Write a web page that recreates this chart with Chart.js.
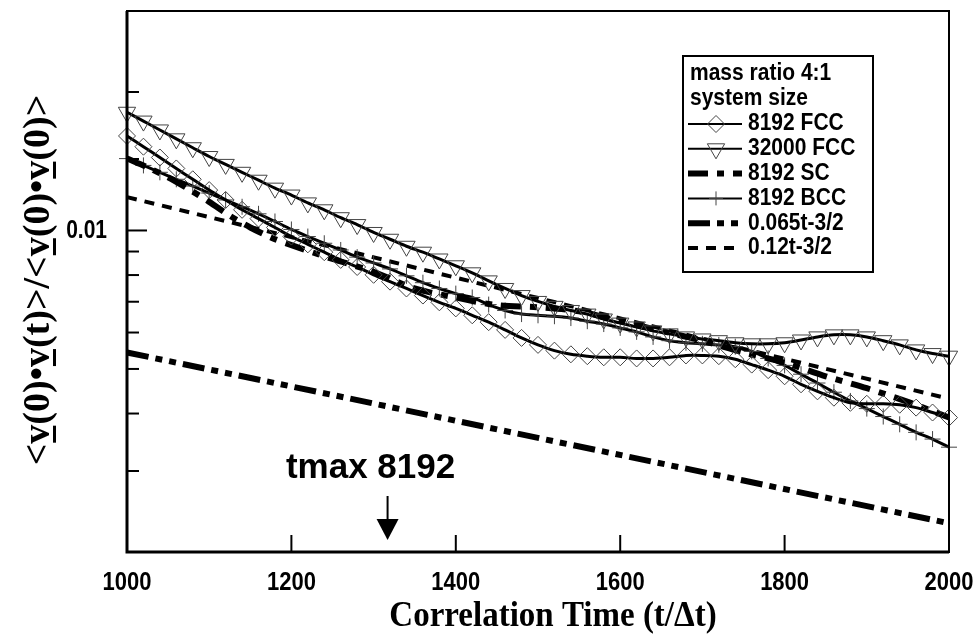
<!DOCTYPE html>
<html><head><meta charset="utf-8">
<script src="https://cdn.jsdelivr.net/npm/chart.js@4.4.1/dist/chart.umd.min.js"></script>
<style>html,body{margin:0;padding:0;background:#fff;}canvas{display:block;}</style>
</head><body>
<canvas id="c" width="976" height="638"></canvas>
<script>
// ---- data ----
const timeFine = [1000,1020,1040,1060,1080,1100,1120,1140,1160,1180,1200,1220,1240,1260,1280,1300,1320,1340,1360,1380,1400,1420,1440,1460,1480,1500,1520,1540,1560,1580,1600,1620,1640,1660,1680,1700,1720,1740,1760,1780,1800,1820,1840,1860,1880,1900,1920,1940,1960,1980,2000];
const fcc8192 = [0.01605,0.01521,0.01441,0.01364,0.01292,0.01224,0.01165,0.01109,0.01061,0.01015,
  0.0097,0.00933,0.00897,0.00863,0.00833,0.00801,0.00774,0.00748,0.00722,0.00698,
  0.00677,0.00654,0.00632,0.00608,0.00584,0.00564,0.00548,0.00538,0.00533,0.0053,
  0.0053,0.00527,0.00527,0.0053,0.00535,0.00535,0.00533,0.00525,0.00511,0.00497,
  0.00482,0.00463,0.00447,0.00433,0.00422,0.0042,0.0042,0.00418,0.00412,0.00402,0.00392];
const fcc32000 = [0.01807,0.01729,0.01654,0.01582,0.01513,0.01448,0.01392,0.01338,0.01286,0.01236,
  0.01194,0.01148,0.01109,0.01066,0.0103,0.0099,0.00957,0.00924,0.00897,0.00867,
  0.00838,0.00809,0.00777,0.00748,0.00722,0.00701,0.00684,0.0067,0.00658,0.00642,
  0.00629,0.00617,0.00605,0.00596,0.00587,0.00581,0.00576,0.0057,0.00567,0.00567,
  0.0057,0.00578,0.00587,0.00593,0.00593,0.00587,0.00576,0.00564,0.0055,0.0054,0.00533];
const bcc8192 = [0.01433,0.01385,0.01338,0.01292,0.01249,0.01206,0.01165,0.01126,0.01087,0.01046,
  0.01005,0.0097,0.00938,0.00907,0.00875,0.0085,0.00825,0.00797,0.0077,0.00748,
  0.00729,0.00715,0.0069,0.0067,0.00658,0.00654,0.00651,0.00645,0.00635,0.00626,
  0.00614,0.00602,0.00587,0.00576,0.0057,0.00567,0.00564,0.00559,0.00546,0.00527,
  0.00509,0.00487,0.00466,0.00445,0.00426,0.0041,0.00394,0.00379,0.00364,0.00352,0.00338];
const timeSC = [1000,1025,1050,1075,1100,1125,1150,1175,1200,1250,1300,1350,1400,1450,1500,1550,1600,1650,1700,1750,1800,1850,1900,1950,2000];
const sc8192 = [0.01433,0.01371,0.01305,0.0123,0.01154,0.01077,0.01015,0.00966,0.00929,0.00867,0.00813,0.00748,0.00715,0.00688,0.00681,0.00667,0.00635,0.00605,0.00576,0.00543,0.00516,0.00482,0.00454,0.00424,0.00392];
const timeFit065 = [1000,1250,1500,1750,2000];
const fit065 = [0.00543,0.00439,0.00354,0.00286,0.00231];
const timeFit12 = [1000,1250,1500,1750,1990];
const fit12 = [0.01182,0.0092,0.00713,0.00553,0.00435];

const xTicks = [1000,1200,1400,1600,1800,2000];
const xTickLabels = ['1000','1200','1400','1600','1800','2000'];
const yTicks = [0.003,0.004,0.005,0.006,0.007,0.008,0.009,0.01,0.0143,0.02];
const yLabelled = [0.01];
const yTickLabels = ['0.01'];
const legendTitle = ['mass ratio 4:1','system size'];
const seriesNames = ['8192 FCC','32000 FCC','8192 SC','8192 BCC','0.065t-3/2','0.12t-3/2'];
const xTitle = 'Correlation Time (t/\u0394t)';
const yTitle = '<v(0)\u2022v(t)>/<v(0)\u2022v(0)>';
const annotText = 'tmax 8192';
const annotT = 1317;

const pts = (xs, ys) => xs.map((x, i) => ({x: x, y: ys[i]}));
const MK = '#444';
const datasets = [
  {label: seriesNames[0], data: pts(timeFine, fcc8192), borderColor: '#000', borderWidth: 3, tension: 0.3,
   pointStyle: 'rectRot', pointRadius: 8.5, pointBorderColor: MK, pointBorderWidth: 1, pointBackgroundColor: 'rgba(0,0,0,0)'},
  {label: seriesNames[1], data: pts(timeFine, fcc32000), borderColor: '#000', borderWidth: 3, tension: 0.3,
   pointStyle: 'triangle', pointRotation: 180, pointRadius: 10, pointBorderColor: MK, pointBorderWidth: 1, pointBackgroundColor: 'rgba(0,0,0,0)'},
  {label: seriesNames[2], data: pts(timeSC, sc8192), borderColor: '#000', borderWidth: 6, borderDash: [20, 9, 7, 9], tension: 0.3, pointRadius: 0},
  {label: seriesNames[3], data: pts(timeFine, bcc8192), borderColor: '#000', borderWidth: 3, tension: 0.3,
   pointStyle: 'cross', pointRadius: 8, pointBorderColor: MK, pointBorderWidth: 1, pointBackgroundColor: 'rgba(0,0,0,0)'},
  {label: seriesNames[4], data: pts(timeFit065, fit065), borderColor: '#000', borderWidth: 6, borderDash: [22, 7, 7, 7, 7, 7], tension: 0, pointRadius: 0},
  {label: seriesNames[5], data: pts(timeFit12, fit12), borderColor: '#000', borderWidth: 4, borderDash: [10, 8], tension: 0, pointRadius: 0}
];
datasets.forEach(d => { d.clip = false; d.fill = false; });

function marker(ctx, style, x, y, r) {
  ctx.save();
  ctx.setLineDash([]);
  ctx.lineWidth = 1; ctx.strokeStyle = MK;
  ctx.beginPath();
  if (style === 'rectRot') {
    ctx.moveTo(x - r, y); ctx.lineTo(x, y - r); ctx.lineTo(x + r, y); ctx.lineTo(x, y + r); ctx.closePath();
  } else if (style === 'triangle') {
    const w = r * Math.sqrt(3) / 2;
    ctx.moveTo(x - w, y - r / 2); ctx.lineTo(x + w, y - r / 2); ctx.lineTo(x, y + r); ctx.closePath();
  } else if (style === 'cross') {
    ctx.moveTo(x, y - r); ctx.lineTo(x, y + r); ctx.moveTo(x - r, y); ctx.lineTo(x + r, y);
  }
  ctx.stroke();
  ctx.restore();
}

// text drawn with a vertical stretch factor (the reference glyphs are tall)
function stretchText(ctx, text, x, y, sy) {
  ctx.save();
  ctx.translate(x, y); ctx.scale(1, sy);
  ctx.fillText(text, 0, 0);
  ctx.restore();
}

const decor = {
  id: 'decor',
  afterDraw(chart) {
    const ctx = chart.ctx, ca = chart.chartArea, xs = chart.scales.x, ys = chart.scales.y;
    ctx.save();
    ctx.strokeStyle = '#000'; ctx.fillStyle = '#000';
    // frame
    ctx.lineWidth = 2;
    ctx.strokeRect(ca.left, ca.top, ca.right - ca.left, ca.bottom - ca.top);
    ctx.lineWidth = 3;
    ctx.beginPath(); ctx.moveTo(ca.left, ca.top); ctx.lineTo(ca.left, ca.bottom); ctx.lineTo(ca.right, ca.bottom); ctx.stroke();
    // inside ticks
    ctx.lineWidth = 2;
    yTicks.forEach(v => {
      const y = ys.getPixelForValue(v);
      const len = yLabelled.some(l => Math.abs(l - v) < 1e-9) ? 20 : 12;
      ctx.beginPath(); ctx.moveTo(ca.left, y); ctx.lineTo(ca.left + len, y); ctx.stroke();
    });
    xTicks.forEach(v => {
      const x = xs.getPixelForValue(v);
      ctx.beginPath(); ctx.moveTo(x, ca.bottom); ctx.lineTo(x, ca.bottom - 17); ctx.stroke();
    });
    // tick labels
    ctx.font = 'bold 22px "Liberation Sans"';
    ctx.textAlign = 'center'; ctx.textBaseline = 'alphabetic';
    xTicks.forEach((v, i) => stretchText(ctx, xTickLabels[i], xs.getPixelForValue(v), 590, 1.2));
    ctx.font = 'bold 21px "Liberation Sans"';
    ctx.textAlign = 'right'; ctx.textBaseline = 'middle';
    yLabelled.forEach((v, i) => stretchText(ctx, yTickLabels[i], 107, ys.getPixelForValue(v) + 1, 1.2));
    // x title
    ctx.font = 'bold 33px "Liberation Serif"';
    ctx.textAlign = 'center'; ctx.textBaseline = 'alphabetic';
    stretchText(ctx, xTitle, 553, 626, 1.1);
    // y title with underlined v
    ctx.save();
    ctx.translate(49, 280); ctx.rotate(-Math.PI / 2);
    ctx.font = 'bold 38px "Liberation Serif"';
    ctx.textAlign = 'left'; ctx.textBaseline = 'alphabetic';
    const total = ctx.measureText(yTitle).width;
    let px = -total / 2;
    for (const ch of yTitle) {
      const w = ctx.measureText(ch).width;
      ctx.fillText(ch, px, 0);
      if (ch === 'v') ctx.fillRect(px + 1, 4, w - 2, 3);
      px += w;
    }
    ctx.restore();
    // annotation
    const ax = xs.getPixelForValue(annotT);
    ctx.font = 'bold 35px "Liberation Sans"';
    ctx.textAlign = 'center'; ctx.textBaseline = 'alphabetic';
    ctx.fillText(annotText, ax - 17, 478);
    ctx.lineWidth = 2;
    ctx.beginPath(); ctx.moveTo(ax, 496); ctx.lineTo(ax, 522); ctx.stroke();
    ctx.beginPath(); ctx.moveTo(ax - 11, 519); ctx.lineTo(ax + 11, 519); ctx.lineTo(ax, 540); ctx.closePath(); ctx.fill();
    // legend
    const L = {left: 683, top: 56, right: 873, bottom: 272};
    ctx.fillStyle = '#fff';
    ctx.fillRect(L.left, L.top, L.right - L.left, L.bottom - L.top);
    ctx.lineWidth = 2; ctx.strokeStyle = '#000';
    ctx.strokeRect(L.left, L.top, L.right - L.left, L.bottom - L.top);
    ctx.fillStyle = '#000';
    ctx.font = 'bold 21px "Liberation Sans"';
    ctx.textAlign = 'left'; ctx.textBaseline = 'middle';
    stretchText(ctx, legendTitle[0], 690, 74, 1.1);
    stretchText(ctx, legendTitle[1], 690, 99, 1.1);
    datasets.forEach((d, i) => {
      const y = 124 + i * 24.8;
      ctx.save();
      ctx.lineWidth = d.borderWidth === 3 ? 2 : d.borderWidth;
      ctx.setLineDash(d.borderDash || []);
      ctx.beginPath(); ctx.moveTo(688, y); ctx.lineTo(742, y); ctx.stroke();
      ctx.restore();
      if (d.pointRadius > 0) marker(ctx, d.pointStyle, 716, y, d.pointStyle === 'cross' ? 7 : d.pointRadius);
      stretchText(ctx, d.label, 748, y, 1.1);
    });
    ctx.restore();
  }
};

new Chart(document.getElementById('c'), {
  type: 'line',
  data: {datasets: datasets},
  options: {
    responsive: false, animation: false, devicePixelRatio: 1,
    layout: {padding: {left: 0, right: 27, top: 3, bottom: 0}},
    plugins: {legend: {display: false}, tooltip: {enabled: false}},
    scales: {
      x: {type: 'linear', min: 1000, max: 2000, grid: {display: false}, border: {display: false},
        ticks: {display: false},
        afterFit: s => { s.height = 86; }},
      y: {type: 'logarithmic', min: 0.002, max: 0.03, grid: {display: false}, border: {display: false},
        ticks: {display: false},
        afterFit: s => { s.width = 127; }}
    }
  },
  plugins: [decor]
});
</script>
</body></html>
